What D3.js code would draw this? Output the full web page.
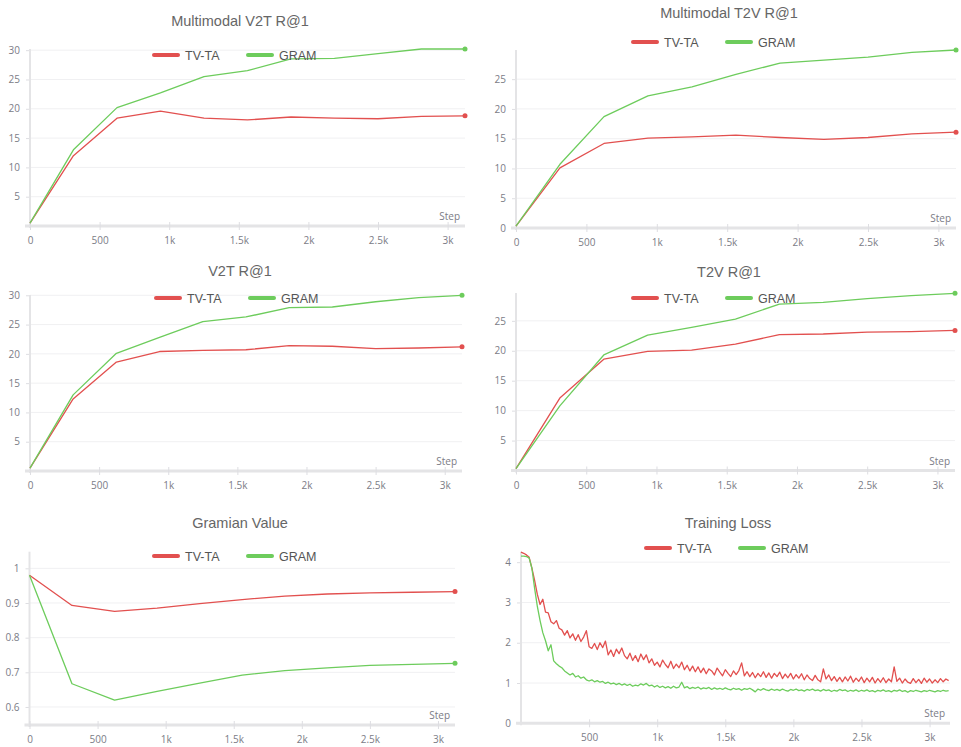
<!DOCTYPE html>
<html>
<head>
<meta charset="utf-8">
<script src="https://cdn.jsdelivr.net/npm/d3@7"></script>
<style>
  body { margin: 0; background: #fff; }
  .title { font-family: "Liberation Sans", Arial, sans-serif; font-size: 14.5px; fill: #666; }
  .legend { font-family: "Liberation Sans", Arial, sans-serif; font-size: 12.5px; fill: #555; }
  .tick-label { font-family: "Open Sans", sans-serif; font-size: 10px; fill: #7b7c86; }
</style>
</head>
<body>
<svg width="961" height="747"></svg>
<script>
// eval steps for the retrieval / gramian panels
var evalSteps = [0, 312, 625, 937, 1250, 1562, 1875, 2187, 2500, 2812, 3125];

var mmV2tTvta = [0.5, 12.0, 18.4, 19.6, 18.4, 18.1, 18.6, 18.4, 18.3, 18.7, 18.8];
var mmV2tGram = [0.5, 13.0, 20.2, 22.7, 25.5, 26.5, 28.5, 28.6, 29.4, 30.2, 30.2];
var mmT2vTvta = [0.3, 10.1, 14.2, 15.1, 15.3, 15.6, 15.2, 14.9, 15.2, 15.8, 16.1];
var mmT2vGram = [0.3, 10.7, 18.7, 22.2, 23.7, 25.8, 27.7, 28.2, 28.7, 29.5, 29.9];
var v2tTvta = [0.5, 12.3, 18.6, 20.4, 20.6, 20.7, 21.4, 21.3, 20.9, 21.0, 21.2];
var v2tGram = [0.5, 13.0, 20.1, 22.8, 25.5, 26.3, 27.9, 28.0, 28.9, 29.6, 30.0];
var t2vTvta = [0.3, 12.1, 18.6, 19.9, 20.1, 21.1, 22.7, 22.8, 23.1, 23.2, 23.4];
var t2vGram = [0.3, 10.8, 19.3, 22.6, 23.9, 25.3, 27.8, 28.1, 28.7, 29.2, 29.6];
var gramTvta = [0.98, 0.893, 0.876, 0.885, 0.898, 0.910, 0.920, 0.926, 0.929, 0.931, 0.933];
var gramGram = [0.98, 0.667, 0.620, 0.645, 0.669, 0.692, 0.705, 0.713, 0.720, 0.723, 0.726];

// training loss, one reading every 20 steps (0 .. 3140)
var lossEvery = 20;
var lossTvta = [
  4.25, 4.22, 4.18, 4.12, 3.85, 3.55, 3.20, 2.95, 3.08, 2.76,
  2.74, 2.52, 2.47, 2.55, 2.36, 2.32, 2.19, 2.30, 2.12, 2.22,
  2.06, 2.20, 2.03, 2.14, 2.30, 1.90, 1.86, 1.98, 1.83, 2.00,
  1.88, 2.04, 1.70, 1.82, 1.66, 1.84, 1.73, 1.87, 1.68, 1.60,
  1.74, 1.56, 1.68, 1.53, 1.72, 1.58, 1.70, 1.50, 1.60, 1.44,
  1.52, 1.40, 1.57, 1.46, 1.38, 1.54, 1.36, 1.47, 1.38, 1.52,
  1.33, 1.44, 1.30, 1.42, 1.28, 1.40, 1.26, 1.37, 1.23, 1.35,
  1.30, 1.20, 1.37, 1.27, 1.18, 1.33, 1.24, 1.16, 1.30, 1.21,
  1.31, 1.50, 1.18, 1.28, 1.16, 1.26, 1.13, 1.24, 1.16, 1.28,
  1.14, 1.25, 1.12, 1.24, 1.16, 1.27, 1.11, 1.22, 1.13, 1.24,
  1.10, 1.21, 1.12, 1.23, 1.08, 1.20, 1.11, 1.06, 1.19, 1.08,
  1.03, 1.35, 1.10, 1.20, 1.06, 1.16, 1.04, 1.14, 1.03, 1.15,
  1.05, 1.17, 1.02, 1.12, 1.04, 1.15, 1.01, 1.12, 1.03, 1.14,
  1.00, 1.11, 1.02, 1.13, 1.01, 1.10, 1.03, 1.40, 1.04, 1.12,
  1.00, 1.10, 1.02, 0.99, 1.11, 1.01, 1.09, 0.99, 1.12, 1.02,
  1.10, 1.00, 1.08, 1.01, 1.11, 1.03, 1.10, 1.06
];
var lossGram = [
  4.15, 4.15, 4.14, 4.10, 3.85, 3.35, 2.90, 2.55, 2.25, 2.05,
  1.80, 1.95, 1.55, 1.48, 1.42, 1.38, 1.30, 1.25, 1.20, 1.24,
  1.15, 1.18, 1.12, 1.15, 1.08, 1.05, 1.08, 1.03, 1.06, 1.02,
  1.04, 0.99, 1.02, 0.98, 1.00, 0.96, 0.99, 0.95, 0.98, 0.94,
  0.97, 0.92, 0.95, 0.93, 0.98, 0.95, 0.99, 0.93, 0.95, 0.90,
  0.94, 0.89, 0.92, 0.88, 0.91, 0.87, 0.92, 0.88, 0.90, 1.02,
  0.88, 0.91, 0.86, 0.89, 0.87, 0.90, 0.85, 0.88, 0.86, 0.89,
  0.84, 0.88, 0.85, 0.87, 0.84, 0.88, 0.85, 0.83, 0.87, 0.84,
  0.86, 0.82, 0.86, 0.84, 0.87, 0.83, 0.78, 0.85, 0.82, 0.86,
  0.83, 0.81, 0.85, 0.82, 0.84, 0.81, 0.85, 0.82, 0.80, 0.84,
  0.82, 0.85, 0.81, 0.83, 0.80, 0.84, 0.82, 0.85, 0.81, 0.83,
  0.80, 0.84, 0.81, 0.83, 0.79, 0.82, 0.80, 0.84, 0.81, 0.83,
  0.79, 0.82, 0.80, 0.83, 0.79, 0.82, 0.80, 0.83, 0.79, 0.81,
  0.78, 0.82, 0.80, 0.83, 0.79, 0.81, 0.78, 0.82, 0.80, 0.83,
  0.79, 0.81, 0.77, 0.81, 0.79, 0.82, 0.80, 0.78, 0.81, 0.79,
  0.82, 0.80, 0.78, 0.81, 0.79, 0.82, 0.80, 0.81
];
var lossSteps = lossTvta.map(function(d, i) { return i * lossEvery; });

var seriesNames = ["TV-TA", "GRAM"];
var colors = ["#e2504f", "#6dcc5c"];

var stepTicks = [0, 500, 1000, 1500, 2000, 2500, 3000];
var recallTicks30 = [5, 10, 15, 20, 25, 30];
var recallTicks25 = [0, 5, 10, 15, 20, 25];
var recallTicks25b = [5, 10, 15, 20, 25];
var gramTicks = [0.6, 0.7, 0.8, 0.9, 1];
var lossTicks = [0, 1, 2, 3, 4];
var lossStepTicks = [500, 1000, 1500, 2000, 2500, 3000];

var panels = [
  {title: "Multimodal V2T R@1", cx: 240, titleY: 26, legendY: 55, legendX: 154,
   left: 30, right: 465, top: 49, bottom: 226, xMax: 3125, yDomain: [0, 30.2],
   xs: evalSteps, series: [mmV2tTvta, mmV2tGram], yTicks: recallTicks30, xTicks: stepTicks, dots: true},
  {title: "Multimodal T2V R@1", cx: 729, titleY: 18, legendY: 42, legendX: 633,
   left: 516, right: 956, top: 50, bottom: 228, xMax: 3125, yDomain: [0, 29.9],
   xs: evalSteps, series: [mmT2vTvta, mmT2vGram], yTicks: recallTicks25, xTicks: stepTicks, dots: true},
  {title: "V2T R@1", cx: 240, titleY: 276, legendY: 298, legendX: 156,
   left: 30, right: 462, top: 295, bottom: 471, xMax: 3125, yDomain: [0, 30.05],
   xs: evalSteps, series: [v2tTvta, v2tGram], yTicks: recallTicks30, xTicks: stepTicks, dots: true},
  {title: "T2V R@1", cx: 729, titleY: 277, legendY: 298, legendX: 633,
   left: 516, right: 955, top: 293, bottom: 470.5, xMax: 3125, yDomain: [0, 29.65],
   xs: evalSteps, series: [t2vTvta, t2vGram], yTicks: recallTicks25b, xTicks: stepTicks, dots: true},
  {title: "Gramian Value", cx: 240, titleY: 528, legendY: 556, legendX: 154,
   left: 29.5, right: 455, top: 551.7, bottom: 725, xMax: 3125, yDomain: [0.548, 1.048],
   xs: evalSteps, series: [gramTvta, gramGram], yTicks: gramTicks, xTicks: stepTicks, dots: true},
  {title: "Training Loss", cx: 728, titleY: 528, legendY: 548, legendX: 646,
   left: 521, right: 950, top: 551.7, bottom: 723.3, xMax: 3150, yDomain: [0, 4.26],
   xs: lossSteps, series: [lossTvta, lossGram], yTicks: lossTicks, xTicks: lossStepTicks, dots: false}
];

var svg = d3.select("svg");

function stepFormat(d) {
  if (d === 0) return "0";
  if (d >= 1000) return (d / 1000) + "k";
  return String(d);
}

function drawPanel(p) {
  var g = svg.append("g");

  var x = d3.scaleLinear().domain([0, p.xMax]).range([p.left, p.right]);
  var y = d3.scaleLinear().domain(p.yDomain).range([p.bottom, p.top]);

  // gridlines
  g.append("g")
    .selectAll("line")
    .data(p.yTicks)
    .join("line")
    .attr("x1", p.left)
    .attr("x2", p.right)
    .attr("y1", function(d) { return y(d); })
    .attr("y2", function(d) { return y(d); })
    .attr("stroke", "#f0f0f2")
    .attr("stroke-width", 1);

  // y axis
  var yAxis = g.append("g")
    .attr("transform", "translate(" + p.left + ",0)")
    .call(d3.axisLeft(y).tickValues(p.yTicks).tickSize(4).tickPadding(6)
      .tickFormat(function(d) { return String(d); }));
  yAxis.select(".domain").remove();
  yAxis.append("line")
    .attr("x1", 0).attr("x2", 0)
    .attr("y1", p.top).attr("y2", p.bottom + 2)
    .attr("stroke", "#e4e4e6").attr("stroke-width", 2);

  // x axis
  var xAxis = g.append("g")
    .attr("transform", "translate(0," + p.bottom + ")")
    .call(d3.axisBottom(x).tickValues(p.xTicks).tickSize(4).tickPadding(7)
      .tickFormat(stepFormat));
  xAxis.select(".domain").remove();
  xAxis.insert("line", ":first-child")
    .attr("x1", p.left - 5).attr("x2", p.right)
    .attr("y1", 0).attr("y2", 0)
    .attr("stroke", "#e4e4e6").attr("stroke-width", 3);

  g.selectAll(".tick line").attr("stroke", "#dedee2");
  g.selectAll(".tick text").attr("class", "tick-label").attr("fill", "#7b7c86");
  xAxis.selectAll(".tick line").attr("y1", -4);

  g.append("text")
    .attr("class", "tick-label")
    .attr("x", p.right - 5)
    .attr("y", p.bottom - 6)
    .attr("text-anchor", "end")
    .text("Step");

  // lines
  var line = d3.line()
    .x(function(d, i) { return x(p.xs[i]); })
    .y(function(d) { return y(d); });

  p.series.forEach(function(s, k) {
    g.append("path")
      .datum(s)
      .attr("fill", "none")
      .attr("stroke", colors[k])
      .attr("stroke-width", 1.3)
      .attr("stroke-linejoin", "round")
      .attr("d", line);
    if (p.dots) {
      var last = s.length - 1;
      g.append("circle")
        .attr("cx", x(p.xs[last]))
        .attr("cy", y(s[last]))
        .attr("r", 2.5)
        .attr("fill", colors[k]);
    }
  });

  // title
  g.append("text")
    .attr("class", "title")
    .attr("x", p.cx)
    .attr("y", p.titleY)
    .attr("text-anchor", "middle")
    .text(p.title);

  // legend
  var lg = g.append("g").attr("transform", "translate(" + p.legendX + "," + p.legendY + ")");
  seriesNames.forEach(function(name, k) {
    var ox = k * 94;
    lg.append("line")
      .attr("x1", ox).attr("x2", ox + 24)
      .attr("y1", 0).attr("y2", 0)
      .attr("stroke", colors[k])
      .attr("stroke-width", 4)
      .attr("stroke-linecap", "round");
    lg.append("text")
      .attr("class", "legend")
      .attr("x", ox + 31)
      .attr("y", 4.5)
      .text(name);
  });
}

panels.forEach(drawPanel);
</script>
</body>
</html>
